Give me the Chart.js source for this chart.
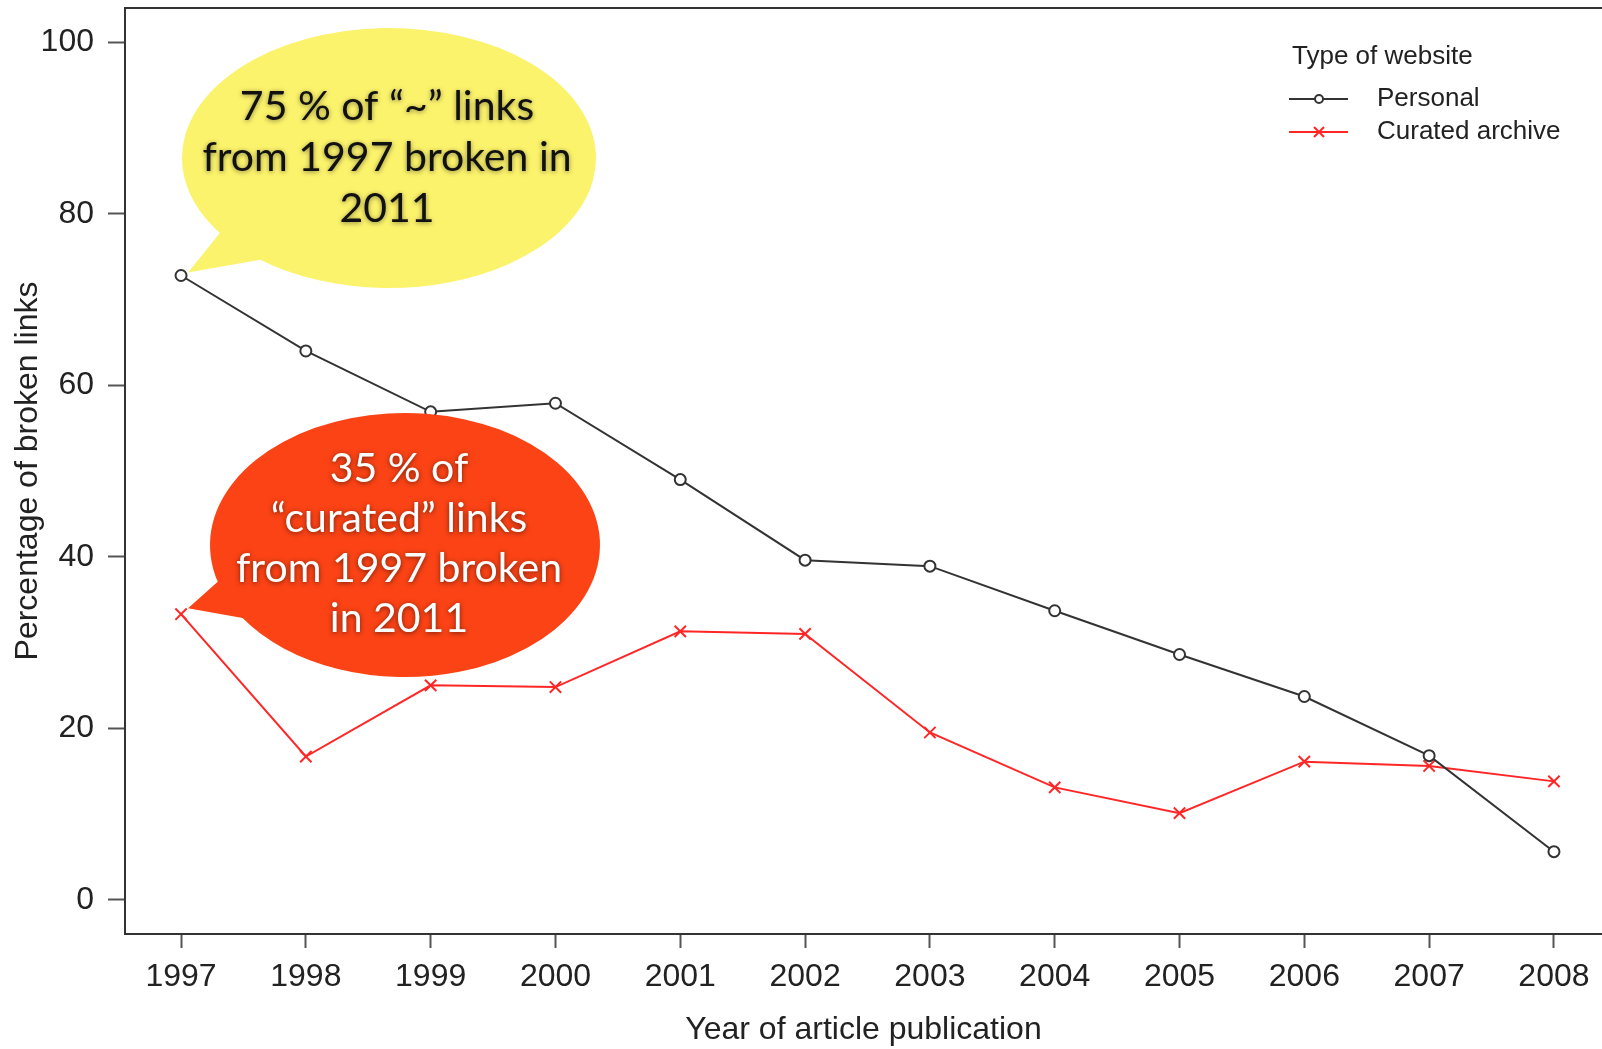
<!DOCTYPE html>
<html>
<head>
<meta charset="utf-8">
<title>Broken links by year of article publication</title>
<script src="https://cdn.jsdelivr.net/npm/chart.js@4.4.1/dist/chart.umd.min.js"></script>
<style>
  html, body { margin: 0; padding: 0; background: #fff; overflow: hidden; }
  #wrap { width: 1602px; height: 1049px; }
</style>
</head>
<body>
<div id="wrap"><canvas id="linksChart" width="1602" height="1049"></canvas></div>
<script>
// year of publication and % of links broken when checked in 2011
const years = [1997, 1998, 1999, 2000, 2001, 2002, 2003, 2004, 2005, 2006, 2007, 2008];
const personal = [72.8, 64.0, 56.9, 57.9, 49.0, 39.6, 38.9, 33.7, 28.6, 23.7, 16.8, 5.6];
const curated = [33.3, 16.7, 25.0, 24.8, 31.3, 31.0, 19.5, 13.1, 10.1, 16.1, 15.6, 13.8];
const yTicks = [0, 20, 40, 60, 80, 100];
const seriesNames = ['Personal', 'Curated archive'];
const legendTitle = 'Type of website';
const personalNote = ['75 % of \u201c~\u201d links', 'from 1997 broken in', '2011'];
const curatedNote = ['35 % of', '\u201ccurated\u201d links', 'from 1997 broken', 'in 2011'];

const axisFont = "'Liberation Sans', Arial, Helvetica, sans-serif";
const noteFont = "Lato, 'Open Sans', sans-serif";
Chart.defaults.font.family = axisFont;

const BLACK = '#333333';
const RED = '#ff2626';

const toPoints = vals => vals.map((v, i) => ({ x: years[i], y: v }));

// speech bubbles pointing at the 1997 values
const bubbles = [
    { dataset: 0, lines: personalNote, fill: '#fcf36c', text: '#111', glow: 'rgba(0,0,0,0.45)',
      cx: 389, cy: 158, rx: 207, ry: 130, from: 144.8, to: 128.5, tip: [7, -3], x: 387, y: 120, step: 51 },
    { dataset: 1, lines: curatedNote, fill: '#fb4315', text: '#fff', glow: 'rgba(0,0,0,0.55)',
      cx: 405, cy: 545, rx: 195, ry: 132, from: 163.8, to: 146.4, tip: [7, -6], x: 399, y: 482, step: 50 }
];

const bubblePlugin = {
    id: 'bubbles',
    afterDraw(chart) {
        const ctx = chart.ctx;
        bubbles.forEach(b => {
            const pt = chart.getDatasetMeta(b.dataset).data[0];
            const deg = Math.PI / 180;
            ctx.save();
            ctx.beginPath();
            ctx.moveTo(pt.x + b.tip[0], pt.y + b.tip[1]);
            ctx.lineTo(b.cx + b.rx * Math.cos(b.from * deg), b.cy + b.ry * Math.sin(b.from * deg));
            ctx.ellipse(b.cx, b.cy, b.rx, b.ry, 0, b.from * deg, b.to * deg + 2 * Math.PI, false);
            ctx.closePath();
            ctx.fillStyle = b.fill;
            ctx.fill();

            ctx.font = `41px ${noteFont}`;
            ctx.textAlign = 'center';
            ctx.textBaseline = 'alphabetic';
            ctx.fillStyle = b.text;
            ctx.shadowColor = b.glow;
            ctx.shadowBlur = 5;
            ctx.shadowOffsetY = 1;
            b.lines.forEach((line, i) => ctx.fillText(line, b.x, b.y + i * b.step));
            ctx.restore();
        });
    }
};

// top edge of the plot box plus the legend in the upper right
const framePlugin = {
    id: 'frame',
    afterDraw(chart) {
        const ctx = chart.ctx;
        const area = chart.chartArea;
        ctx.save();
        ctx.strokeStyle = BLACK;
        ctx.lineWidth = 2;
        ctx.beginPath();
        ctx.moveTo(area.left - 1, area.top);
        ctx.lineTo(area.right, area.top);
        ctx.stroke();

        ctx.font = `26px ${axisFont}`;
        ctx.textBaseline = 'middle';
        ctx.textAlign = 'left';
        ctx.fillStyle = '#222';
        ctx.fillText(legendTitle, 1292, 57);

        const rows = [
            { name: seriesNames[0], color: BLACK, y: 99, mark: 'circle' },
            { name: seriesNames[1], color: RED, y: 132, mark: 'cross' }
        ];
        rows.forEach(r => {
            ctx.strokeStyle = r.color;
            ctx.lineWidth = 2;
            ctx.beginPath();
            ctx.moveTo(1289, r.y);
            ctx.lineTo(1348, r.y);
            ctx.stroke();
            if (r.mark === 'circle') {
                ctx.beginPath();
                ctx.arc(1319, r.y, 4, 0, 2 * Math.PI);
                ctx.fillStyle = '#fff';
                ctx.fill();
                ctx.stroke();
            } else {
                ctx.beginPath();
                ctx.moveTo(1314, r.y - 5); ctx.lineTo(1324, r.y + 5);
                ctx.moveTo(1324, r.y - 5); ctx.lineTo(1314, r.y + 5);
                ctx.stroke();
            }
            ctx.fillStyle = '#222';
            ctx.fillText(r.name, 1377, r.y);
        });
        ctx.restore();
    }
};

const ctx = document.getElementById('linksChart').getContext('2d');
new Chart(ctx, {
    type: 'line',
    data: {
        datasets: [{
            label: seriesNames[0],
            data: toPoints(personal),
            borderColor: BLACK,
            borderWidth: 2,
            pointStyle: 'circle',
            pointRadius: 5.5,
            pointBorderWidth: 2,
            pointBorderColor: BLACK,
            pointBackgroundColor: '#fff',
            tension: 0
        }, {
            label: seriesNames[1],
            data: toPoints(curated),
            borderColor: RED,
            borderWidth: 2,
            pointStyle: 'crossRot',
            pointRadius: 8,
            pointBorderWidth: 2,
            pointBorderColor: RED,
            tension: 0
        }]
    },
    options: {
        responsive: false,
        animation: false,
        layout: { autoPadding: false, padding: { top: 8, left: 0, right: 0, bottom: 0 } },
        scales: {
            x: {
                type: 'linear',
                min: 1996.551,
                max: 2008.385,
                afterBuildTicks: s => { s.ticks = years.map(v => ({ value: v })); },
                afterFit: s => {
                    s.height = 115;
                    s.paddingLeft = 0;
                    s.paddingRight = 0;
                },
                grid: { drawOnChartArea: false, drawTicks: true, tickLength: 14, tickWidth: 2, tickColor: '#555' },
                border: { display: true, color: BLACK, width: 2 },
                ticks: {
                    color: '#222',
                    font: { size: 32 },
                    padding: 10,
                    maxRotation: 0,
                    autoSkip: false,
                    callback: v => String(v)
                },
                title: {
                    display: true,
                    text: 'Year of article publication',
                    color: '#222',
                    font: { size: 32, lineHeight: 1 },
                    padding: { top: 0, bottom: 3 }
                }
            },
            y: {
                min: -4,
                max: 104,
                afterBuildTicks: s => { s.ticks = yTicks.map(v => ({ value: v })); },
                afterFit: s => {
                    s.width = 125;
                    s.paddingTop = 0;
                    s.paddingBottom = 0;
                },
                grid: { drawOnChartArea: false, drawTicks: true, tickLength: 17, tickWidth: 2, tickColor: '#555' },
                border: { display: true, color: BLACK, width: 2 },
                ticks: {
                    color: '#222',
                    font: { size: 32 },
                    padding: 14
                },
                title: {
                    display: true,
                    text: 'Percentage of broken links',
                    color: '#222',
                    font: { size: 32, lineHeight: 1 },
                    padding: { top: 12, bottom: 0 }
                }
            }
        },
        plugins: {
            legend: { display: false },
            tooltip: { enabled: false }
        }
    },
    plugins: [bubblePlugin, framePlugin]
});
</script>
</body>
</html>
